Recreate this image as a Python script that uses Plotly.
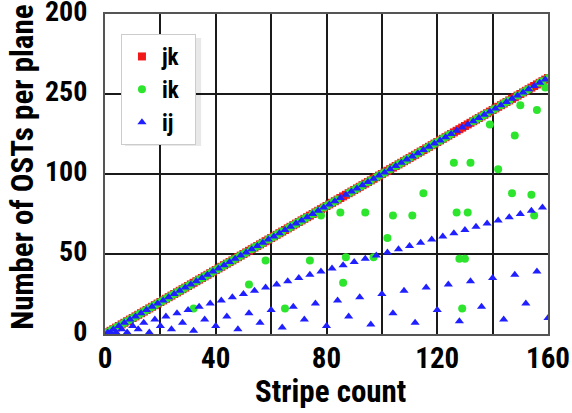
import plotly.graph_objects as go

# Stripe counts (x) -- 1..160
stripe = [
    1, 2, 3, 4, 5, 6, 7, 8, 9, 10, 11, 12, 13, 14, 15, 16,
    17, 18, 19, 20, 21, 22, 23, 24, 25, 26, 27, 28, 29, 30, 31, 32,
    33, 34, 35, 36, 37, 38, 39, 40, 41, 42, 43, 44, 45, 46, 47, 48,
    49, 50, 51, 52, 53, 54, 55, 56, 57, 58, 59, 60, 61, 62, 63, 64,
    65, 66, 67, 68, 69, 70, 71, 72, 73, 74, 75, 76, 77, 78, 79, 80,
    81, 82, 83, 84, 85, 86, 87, 88, 89, 90, 91, 92, 93, 94, 95, 96,
    97, 98, 99, 100, 101, 102, 103, 104, 105, 106, 107, 108, 109, 110, 111, 112,
    113, 114, 115, 116, 117, 118, 119, 120, 121, 122, 123, 124, 125, 126, 127, 128,
    129, 130, 131, 132, 133, 134, 135, 136, 137, 138, 139, 140, 141, 142, 143, 144,
    145, 146, 147, 148, 149, 150, 151, 152, 153, 154, 155, 156, 157, 158, 159, 160,
]

jk = [
    1, 2, 3, 4, 5, 6, 7, 8, 9, 10, 11, 12, 13, 14, 15, 16,
    17, 18, 19, 20, 21, 22, 23, 24, 25, 26, 27, 28, 29, 30, 31, 32,
    33, 34, 35, 36, 37, 38, 39, 40, 41, 42, 43, 44, 45, 46, 47, 48,
    49, 50, 51, 52, 53, 54, 55, 56, 57, 58, 59, 60, 61, 62, 63, 64,
    65, 66, 67, 68, 69, 70, 71, 72, 73, 74, 75, 76, 77, 78, 79, 80,
    81, 82, 83, 84, 85, 86, 87, 88, 89, 90, 91, 92, 93, 94, 95, 96,
    97, 98, 99, 100, 101, 102, 103, 104, 105, 106, 107, 108, 109, 110, 111, 112,
    113, 114, 115, 116, 117, 118, 119, 120, 121, 122, 123, 124, 125, 126, 127, 128,
    129, 130, 131, 132, 133, 134, 135, 136, 137, 138, 139, 140, 141, 142, 143, 144,
    145, 146, 147, 148, 149, 150, 151, 152, 153, 154, 155, 156, 157, 158, 159, 160,
]

ik = [
    1, 2, 3, 4, 5, 6, 7, 8, 9, 10, 11, 12, 13, 14, 15, 16,
    17, 18, 19, 20, 21, 22, 23, 24, 25, 26, 27, 28, 29, 30, 31, 16,
    33, 34, 35, 36, 37, 38, 39, 40, 41, 42, 43, 44, 45, 46, 47, 48,
    49, 50, 51, 31, 53, 54, 55, 56, 57, 46, 59, 60, 61, 62, 63, 64,
    16, 66, 67, 68, 69, 70, 71, 72, 73, 46, 75, 76, 77, 74, 79, 80,
    81, 82, 83, 84, 76, 32, 48, 88, 89, 90, 91, 92, 93, 76, 95, 96,
    48, 98, 99, 100, 101, 60, 103, 74, 105, 106, 107, 108, 109, 110, 74, 112,
    113, 114, 88, 116, 117, 118, 119, 120, 121, 122, 123, 124, 125, 107, 76, 47,
    16, 47, 76, 107, 133, 134, 135, 136, 137, 138, 131, 140, 141, 103, 143, 144,
    145, 146, 88, 124, 149, 143, 151, 152, 153, 87, 74, 140, 157, 158, 154, 160,
]

ij = [
    1, 1, 3, 1, 5, 3, 7, 1, 9, 5, 11, 3, 13, 7, 15, 1,
    17, 9, 19, 5, 21, 11, 23, 3, 25, 13, 27, 7, 29, 15, 31, 2,
    33, 17, 35, 9, 37, 19, 39, 5, 41, 21, 43, 11, 45, 23, 47, 3,
    49, 25, 51, 13, 53, 27, 55, 7, 57, 29, 59, 15, 61, 31, 63, 4,
    65, 33, 67, 17, 69, 35, 71, 9, 73, 37, 75, 19, 77, 39, 79, 5,
    81, 41, 83, 21, 85, 43, 87, 11, 89, 45, 91, 23, 93, 47, 95, 6,
    97, 49, 99, 25, 101, 51, 103, 13, 105, 53, 107, 27, 109, 55, 111, 7,
    113, 57, 115, 29, 117, 59, 119, 15, 121, 61, 123, 31, 125, 63, 127, 8,
    129, 65, 131, 33, 133, 67, 135, 17, 137, 69, 139, 35, 141, 71, 143, 9,
    145, 73, 147, 37, 149, 75, 151, 19, 153, 77, 155, 39, 157, 79, 159, 10,
]

x_tickvals = [0, 20, 40, 60, 80, 100, 120, 140, 160]
x_ticktext = ["0", "", "40", "", "80", "", "120", "", "160"]
y_tickvals = [0, 50, 100, 150, 200]
y_ticktext = ["0", "50", "100", "250", "200"]
x_title = "Stripe count"
y_title = "Number of OSTs per plane"
series_names = ["jk", "ik", "ij"]

FONT = "Liberation Sans Narrow, Arial Narrow, Roboto Condensed, Liberation Sans, sans-serif"
PAD = "\u2002"  # small invisible padding so the legend box is as wide as the original

fig = go.Figure()
fig.add_trace(go.Scatter(
    x=stripe, y=jk, mode="markers", name=series_names[0] + PAD,
    marker=dict(symbol="square", size=8, color="#f01818", line=dict(width=0)),
))
fig.add_trace(go.Scatter(
    x=stripe, y=ik, mode="markers", name=series_names[1] + PAD,
    marker=dict(symbol="circle", size=8, color="#2ee52e", line=dict(width=0)),
))
fig.add_trace(go.Scatter(
    x=stripe, y=ij, mode="markers", name=series_names[2] + PAD,
    marker=dict(symbol="triangle-up", size=8, color="#1f1fff", line=dict(width=0)),
))

# soft legend shadow
fig.add_shape(type="rect", xref="paper", yref="paper",
              x0=0.045, x1=0.217, y0=0.5875, y1=0.925,
              fillcolor="rgba(0,0,0,0.09)", line=dict(width=0), layer="above")

fig.add_annotation(text=x_title, xref="paper", yref="paper",
                   x=0.51, y=-0.18, xanchor="center", yanchor="middle",
                   showarrow=False,
                   font=dict(family=FONT, size=31, color="black", weight="bold"))
fig.add_annotation(text=y_title, xref="paper", yref="paper",
                   x=-0.187, y=0.52, xanchor="center", yanchor="middle",
                   textangle=-90, showarrow=False,
                   font=dict(family=FONT, size=31, color="black", weight="bold"))

fig.update_layout(
    width=572, height=413,
    margin=dict(l=105, r=24, t=14, b=79, autoexpand=False),
    paper_bgcolor="white", plot_bgcolor="white",
    font=dict(family=FONT, size=28, color="black", weight="bold"),
    showlegend=True,
    legend=dict(
        x=0.036, y=0.9375, xanchor="left", yanchor="top",
        bgcolor="white", bordercolor="#cccccc", borderwidth=1,
        font=dict(family=FONT, size=23, color="black", weight="bold"),
        itemwidth=30,
    ),
    xaxis=dict(
        range=[0, 160], tickvals=x_tickvals, ticktext=x_ticktext,
        showgrid=True, gridcolor="#1a1a1a", gridwidth=2,
        showline=True, linecolor="#555555", linewidth=2, mirror=True,
        zeroline=False, ticks="", ticklabelstandoff=-3,
        ticklabeloverflow="allow", automargin=False,
        tickfont=dict(family=FONT, size=29, weight="bold"),
    ),
    yaxis=dict(
        range=[0, 200], tickvals=y_tickvals, ticktext=y_ticktext,
        showgrid=True, gridcolor="#1a1a1a", gridwidth=2,
        showline=True, linecolor="#555555", linewidth=2, mirror=True,
        zeroline=False, ticks="", ticklabelstandoff=10, ticklabelshift=-3,
        ticklabeloverflow="allow", automargin=False,
        tickfont=dict(family=FONT, size=28, weight="bold"),
    ),
)

fig.write_html("out.html", config={"displayModeBar": False},
               post_script="document.body.style.margin='0px';")
